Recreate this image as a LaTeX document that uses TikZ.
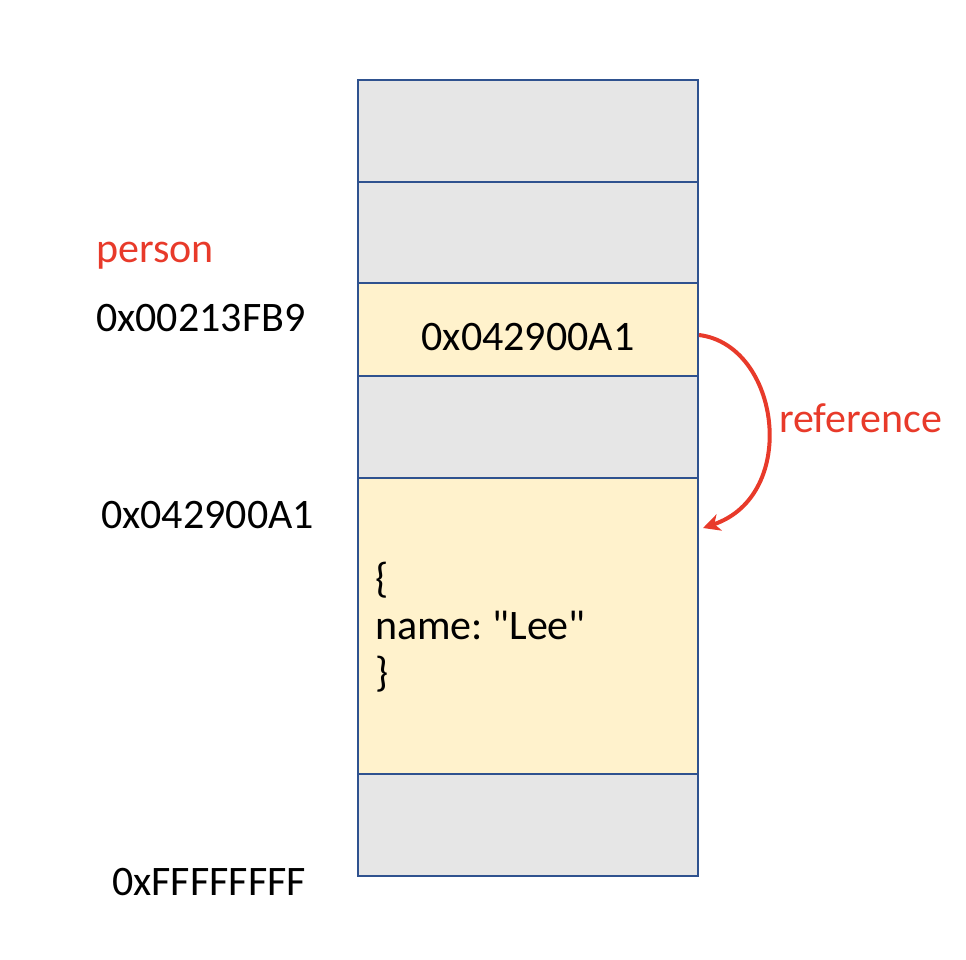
\documentclass[tikz,border=0pt]{standalone}
\usepackage{fontspec}
\setmainfont{Carlito}
\usetikzlibrary{arrows.meta,positioning}
\definecolor{edge}{HTML}{2F528F}
\definecolor{free}{HTML}{E6E6E6}
\definecolor{used}{HTML}{FFF2CC}
\definecolor{hot}{HTML}{E83A2A}
\tikzset{
  cell/.style={draw=edge,fill=#1,line width=2pt,minimum width=340pt,outer sep=0pt,inner sep=0pt},
  cell/.default=free,
  addr/.style={anchor=base west,inner sep=0pt,font=\fontsize{42}{47}\selectfont\frenchspacing},
  ref/.style={-{Stealth[length=17pt,width=17pt,inset=5pt]},line width=4pt,draw=hot},
}

\begin{document}
\begin{tikzpicture}[x=1pt,y=-1pt]
  \useasboundingbox (0,0) rectangle (966,960);
  % memory column
  \node[cell,minimum height=102pt,anchor=north west] (c1) at (358,80) {};
  \node[cell,minimum height=101pt,below=0pt of c1] (c2) {};
  \node[cell=used,minimum height=93pt,below=0pt of c2] (ptr) {};
  \node[cell,minimum height=102pt,below=0pt of ptr] (c4) {};
  \node[cell=used,minimum height=296pt,below=0pt of c4] (obj) {};
  \node[cell,minimum height=102pt,below=0pt of obj] (c6) {};
  % contents
  \node[addr,anchor=base] (pval) at (528,350) {0x042900A1};
  \node[addr,align=left] (oval) at (375,686) {\{\\name: \textquotedbl Lee\textquotedbl\\\}};
  % addresses
  \node[addr,text=hot] (pname) at (96,262) {person};
  \node[addr] (paddr) at (96,331) {0x00213FB9};
  \node[addr] (oaddr) at (101,528) {0x042900A1};
  \node[addr] (last) at (112,895) {0xFFFFFFFF};
  % reference arrow
  \coordinate (src) at (699,335);
  \coordinate (tgt) at (703,528);
  \draw[ref] (src) .. controls (780,345) and (800,495) .. (tgt);
  \node[addr,text=hot] (rlbl) at (779,432) {reference};
\end{tikzpicture}
\end{document}
